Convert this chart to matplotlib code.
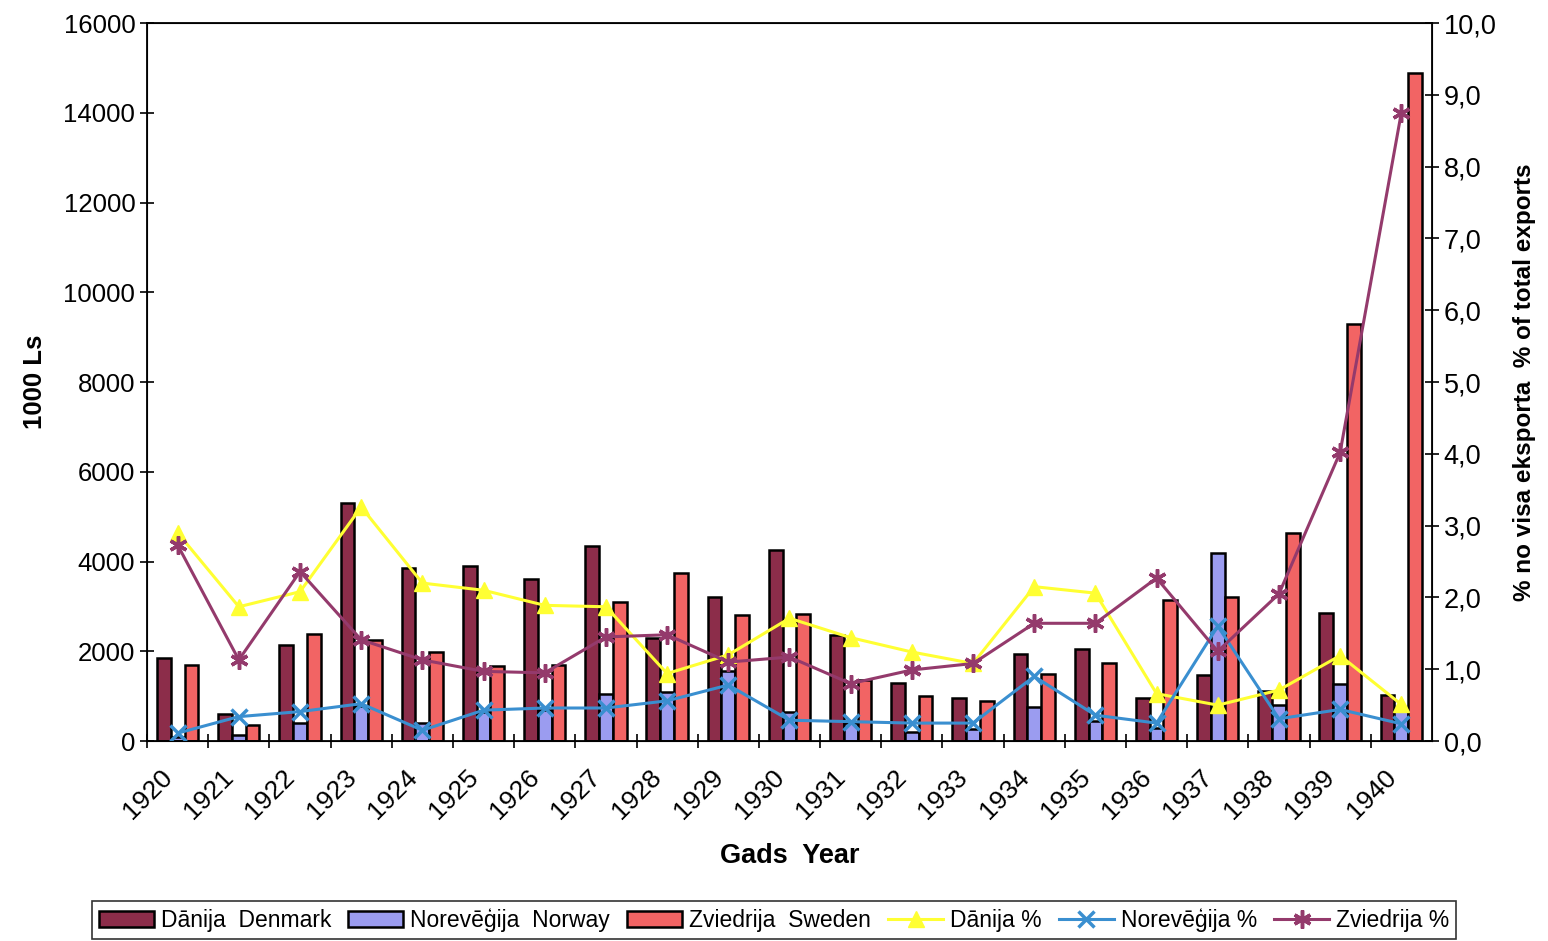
import matplotlib
matplotlib.use('Agg')
import matplotlib.pyplot as plt
import matplotlib.transforms as mtransforms
from matplotlib.patches import Patch
from matplotlib.lines import Line2D
import numpy as np

plt.rcParams['font.family'] = ['Liberation Sans', 'DejaVu Sans']

years = ['1920', '1921', '1922', '1923', '1924', '1925', '1926', '1927', '1928', '1929', '1930',
         '1931', '1932', '1933', '1934', '1935', '1936', '1937', '1938', '1939', '1940']

# export values, 1000 Ls
denmark = [1850, 600, 2150, 5300, 3850, 3900, 3600, 4350, 2300, 3200, 4250,
           2370, 1300, 950, 1950, 2050, 950, 1470, 1120, 2860, 1020]
norway = [100, 130, 400, 780, 400, 650, 700, 1050, 1100, 1550, 650,
          400, 200, 260, 750, 450, 300, 4200, 800, 1260, 700]
sweden = [1700, 350, 2380, 2250, 1980, 1680, 1700, 3100, 3750, 2800, 2820,
          1350, 1000, 900, 1500, 1750, 3150, 3220, 4630, 9300, 14880]

# share of total exports, %
denmark_pct = [2.9, 1.87, 2.08, 3.26, 2.2, 2.1, 1.89, 1.87, 0.94, 1.2, 1.71,
               1.44, 1.24, 1.08, 2.15, 2.06, 0.66, 0.5, 0.71, 1.19, 0.51]
norway_pct = [0.11, 0.34, 0.41, 0.52, 0.15, 0.43, 0.46, 0.46, 0.56, 0.78, 0.29,
              0.27, 0.25, 0.25, 0.9, 0.36, 0.25, 1.6, 0.31, 0.44, 0.24]
sweden_pct = [2.73, 1.13, 2.36, 1.41, 1.13, 0.97, 0.95, 1.45, 1.48, 1.1, 1.17,
              0.8, 0.99, 1.08, 1.64, 1.64, 2.27, 1.25, 2.05, 4.02, 8.75]

c_den = '#8c2d4a'
c_nor = '#9b9cf0'
c_swe = '#f26464'
c_den_l = '#ffff33'
c_nor_l = '#3a8fd0'
c_swe_l = '#943a6c'

fig = plt.figure(figsize=(15.48, 9.41), dpi=100)
ax = fig.add_axes([0.095, 0.2125, 0.83, 0.763])

x = np.arange(len(years))
w = 0.225
ax.bar(x - w, denmark, w, color=c_den, edgecolor='black', linewidth=1.8)
ax.bar(x, norway, w, color=c_nor, edgecolor='black', linewidth=1.8)
ax.bar(x + w, sweden, w, color=c_swe, edgecolor='black', linewidth=1.8)

ax.set_xlim(-0.5, len(years) - 0.5)
ax.set_ylim(0, 16000)
ax.set_yticks(np.arange(0, 16001, 2000))
ax.tick_params(axis='y', labelsize=18.5, direction='inout', length=10, width=1.2)
ax.set_ylabel('1000 Ls', fontsize=18.5, fontweight='bold', labelpad=12)

ax.set_xticks(x - 0.5)
ax.set_xticklabels(years, rotation=45, ha='right', va='top', rotation_mode='anchor', fontsize=19)
ax.tick_params(axis='x', direction='inout', length=10, width=1.2, pad=12)
offset = mtransforms.ScaledTranslation(13 / 100, 0, fig.dpi_scale_trans)
for lab in ax.get_xticklabels():
    lab.set_transform(lab.get_transform() + offset)
ax.set_xlabel('Gads  Year', fontsize=19.5, fontweight='bold', labelpad=14)

for s in ax.spines.values():
    s.set_linewidth(1.3)

ax2 = ax.twinx()
ax2.plot(x, denmark_pct, color=c_den_l, lw=2.2, marker='^', ms=11, mec=c_den_l, mfc=c_den_l)
ax2.plot(x, norway_pct, color=c_nor_l, lw=2.2, marker='x', ms=11, mew=2.5)
ax2.plot(x, sweden_pct, color=c_swe_l, lw=2.2, marker=(6, 2, 0), ms=13, mew=2.5)
ax2.set_ylim(0, 10)
ax2.set_yticks(np.arange(0, 10.1, 1))
ax2.set_yticklabels([f'{v:.1f}'.replace('.', ',') for v in np.arange(0, 10.1, 1)])
ax2.tick_params(axis='y', labelsize=19.5, direction='inout', length=10, width=1.2)
ax2.set_ylabel('% no visa eksporta  % of total exports', fontsize=17.5, fontweight='bold', labelpad=12)

handles = [
    Patch(facecolor=c_den, edgecolor='black', linewidth=1.8, label='Dānija  Denmark'),
    Patch(facecolor=c_nor, edgecolor='black', linewidth=1.8, label='Norevēģija  Norway'),
    Patch(facecolor=c_swe, edgecolor='black', linewidth=1.8, label='Zviedrija  Sweden'),
    Line2D([], [], color=c_den_l, lw=2.2, marker='^', ms=11, label='Dānija %'),
    Line2D([], [], color=c_nor_l, lw=2.2, marker='x', ms=11, mew=2.5, label='Norevēģija %'),
    Line2D([], [], color=c_swe_l, lw=2.2, marker=(6, 2, 0), ms=13, mew=2.5, label='Zviedrija %'),
]
leg = fig.legend(handles=handles, loc='lower center', bbox_to_anchor=(0.5, 0.0), ncol=6,
                 fontsize=16.5, frameon=True, fancybox=False, edgecolor='black',
                 handlelength=2.4, handletextpad=0.3, columnspacing=0.75, borderpad=0.3,
                 borderaxespad=0.1)
leg.get_frame().set_linewidth(1.2)

fig.savefig('out.png', dpi=100)
